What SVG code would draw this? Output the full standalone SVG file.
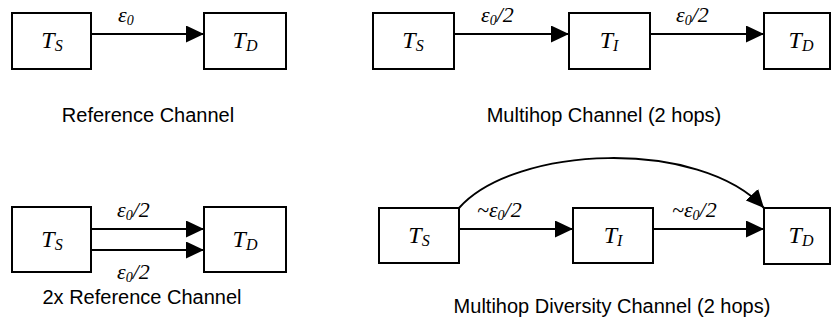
<svg xmlns="http://www.w3.org/2000/svg" width="832" height="324" viewBox="0 0 832 324">
<style>
.box{fill:#fff;stroke:#000;stroke-width:2}
.ln{fill:none;stroke:#000;stroke-width:2;marker-end:url(#ah)}
.nd{font-family:"Liberation Serif","Times New Roman",serif;font-style:italic;font-size:24px;fill:#000;text-anchor:middle}
.sub{font-size:16px}
.lb{font-family:"Liberation Serif","Times New Roman",serif;font-style:italic;font-size:22px;fill:#000}
.lsub{font-size:14px}
.cap{font-family:"Liberation Sans",Arial,sans-serif;font-size:20px;fill:#000;text-anchor:middle}
</style>
<defs>
<marker id="ah" markerUnits="userSpaceOnUse" viewBox="0 0 18 17" refX="18" refY="8.5" markerWidth="18" markerHeight="17" orient="auto">
<path d="M0,0 L18,8.5 L0,17 z" fill="#000"/>
</marker>
</defs>

<g id="ref-ts"><rect class="box" x="12" y="13" width="79" height="56"/><text class="nd" x="52" y="48">T<tspan class="sub" dy="3">S</tspan></text></g>
<g id="ref-td"><rect class="box" x="204" y="13" width="82" height="56"/><text class="nd" x="245" y="48">T<tspan class="sub" dy="3">D</tspan></text></g>

<g id="mh-ts"><rect class="box" x="373" y="13" width="81" height="56"/><text class="nd" x="413" y="48">T<tspan class="sub" dy="3">S</tspan></text></g>
<g id="mh-ti"><rect class="box" x="569" y="13" width="81" height="56"/><text class="nd" x="609" y="48">T<tspan class="sub" dy="3">I</tspan></text></g>
<g id="mh-td"><rect class="box" x="764" y="13" width="66" height="56"/><text class="nd" x="801" y="48">T<tspan class="sub" dy="3">D</tspan></text></g>

<g id="r2-ts"><rect class="box" x="12" y="207" width="79" height="65"/><text class="nd" x="52" y="247">T<tspan class="sub" dy="3">S</tspan></text></g>
<g id="r2-td"><rect class="box" x="204" y="207" width="82" height="65"/><text class="nd" x="245" y="247">T<tspan class="sub" dy="3">D</tspan></text></g>

<g id="md-ts"><rect class="box" x="379" y="208" width="80" height="55"/><text class="nd" x="419" y="243">T<tspan class="sub" dy="3">S</tspan></text></g>
<g id="md-ti"><rect class="box" x="573" y="208" width="80" height="55"/><text class="nd" x="613" y="243">T<tspan class="sub" dy="3">I</tspan></text></g>
<g id="md-td"><rect class="box" x="764" y="208" width="66" height="56"/><text class="nd" x="801" y="243">T<tspan class="sub" dy="3">D</tspan></text></g>

<g id="connectors">
<line class="ln" x1="91" y1="34" x2="204" y2="34"/>
<line class="ln" x1="454" y1="34" x2="569" y2="34"/>
<line class="ln" x1="650" y1="34" x2="764" y2="34"/>
<line class="ln" x1="91" y1="229" x2="204" y2="229"/>
<line class="ln" x1="91" y1="250" x2="204" y2="250"/>
<line class="ln" x1="459" y1="229" x2="573" y2="229"/>
<line class="ln" x1="653" y1="229" x2="764" y2="229"/>
<path class="ln" d="M459,208 C515,145 700,138 764,208"/>
</g>

<g id="labels">
<text class="lb" x="118" y="22">ε<tspan class="lsub" dy="3">0</tspan></text>
<text class="lb" x="481" y="22">ε<tspan class="lsub" dy="3">0</tspan><tspan dy="-3">/2</tspan></text>
<text class="lb" x="676" y="22">ε<tspan class="lsub" dy="3">0</tspan><tspan dy="-3">/2</tspan></text>
<text class="lb" x="117" y="217">ε<tspan class="lsub" dy="3">0</tspan><tspan dy="-3">/2</tspan></text>
<text class="lb" x="117" y="279">ε<tspan class="lsub" dy="3">0</tspan><tspan dy="-3">/2</tspan></text>
<text class="lb" x="477" y="217">~ε<tspan class="lsub" dy="3">0</tspan><tspan dy="-3">/2</tspan></text>
<text class="lb" x="672" y="217">~ε<tspan class="lsub" dy="3">0</tspan><tspan dy="-3">/2</tspan></text>
</g>

<g id="captions">
<text class="cap" x="148" y="122">Reference Channel</text>
<text class="cap" x="604" y="122">Multihop Channel (2 hops)</text>
<text class="cap" x="142" y="304">2x Reference Channel</text>
<text class="cap" x="612" y="313">Multihop Diversity Channel (2 hops)</text>
</g>
</svg>
